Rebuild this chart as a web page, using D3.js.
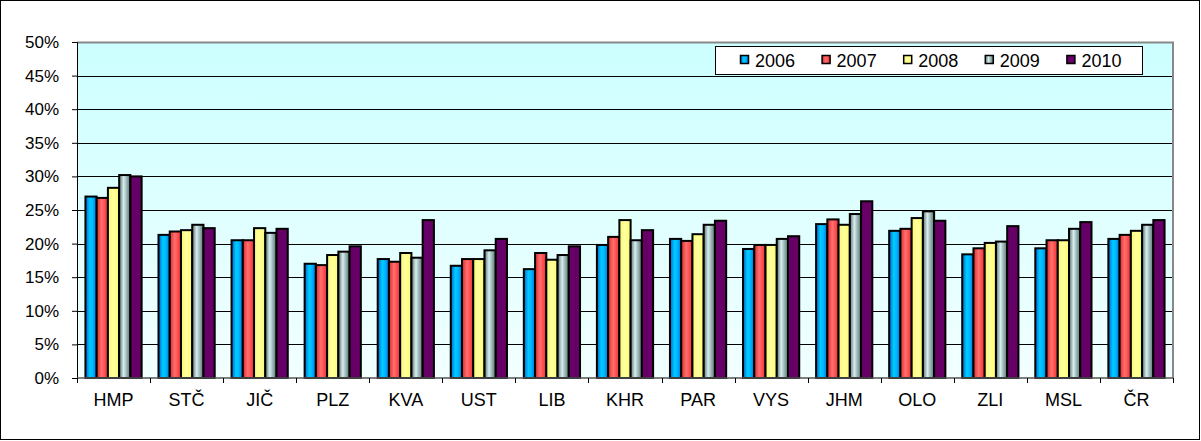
<!DOCTYPE html>
<html>
<head>
<meta charset="utf-8">
<script src="https://cdn.jsdelivr.net/npm/d3@7"></script>
<style>
  body { margin: 0; background: #fff; }
  text { font-family: "Liberation Sans", Arial, sans-serif; fill: #000; }
</style>
</head>
<body>
<svg width="1201" height="441"></svg>
<script>
const width = 1201;
const height = 441;

const categories = ["HMP", "STČ", "JIČ", "PLZ", "KVA", "UST", "LIB", "KHR", "PAR", "VYS", "JHM", "OLO", "ZLI", "MSL", "ČR"];
const years = ["2006", "2007", "2008", "2009", "2010"];

// hodnoty v procentech
const v2006 = [27.0, 21.3, 20.5, 17.0, 17.7, 16.7, 16.2, 19.8, 20.7, 19.2, 22.9, 21.9, 18.4, 19.3, 20.7];
const v2007 = [26.8, 21.8, 20.5, 16.8, 17.3, 17.7, 18.6, 21.0, 20.4, 19.8, 23.6, 22.2, 19.3, 20.5, 21.3];
const v2008 = [28.3, 22.0, 22.3, 18.3, 18.6, 17.7, 17.6, 23.5, 21.4, 19.8, 22.8, 23.8, 20.1, 20.5, 21.9];
const v2009 = [30.2, 22.8, 21.6, 18.8, 17.9, 19.0, 18.3, 20.5, 22.8, 20.7, 24.4, 24.8, 20.3, 22.2, 22.8];
const v2010 = [30.0, 22.3, 22.2, 19.6, 23.5, 20.7, 19.6, 22.0, 23.4, 21.1, 26.3, 23.4, 22.6, 23.2, 23.5];
const yTicks = [0, 5, 10, 15, 20, 25, 30, 35, 40, 45, 50];

const series = [v2006, v2007, v2008, v2009, v2010];

const margin = {left: 77, top: 42, right: 1173, bottom: 378};

const svg = d3.select("svg").attr("viewBox", [0, 0, width, height]);
const defs = svg.append("defs");

// gradienty
const bg = defs.append("linearGradient").attr("id", "bg")
    .attr("x1", 0).attr("y1", 0).attr("x2", 0).attr("y2", 1);
bg.append("stop").attr("offset", 0).attr("stop-color", "#ccffff");
bg.append("stop").attr("offset", 1).attr("stop-color", "#f2ffff");

const barStops = [
    [["#0060d0", 0], ["#00ccff", 0.4], ["#00b8ff", 0.65], ["#0070e0", 1]],
    [["#e02828", 0], ["#ff7070", 0.45], ["#ff5050", 0.7], ["#e83030", 1]],
    [["#f8f870", 0], ["#ffffa0", 0.45], ["#ffff88", 0.7], ["#f8f870", 1]],
    [["#5a7070", 0], ["#d8eeee", 0.4], ["#a8c4c4", 0.6], ["#5a7070", 1]],
    [["#660066", 0], ["#660066", 1]]
];
barStops.forEach((stops, i) => {
    const g = defs.append("linearGradient").attr("id", "bar" + i)
        .attr("x1", 0).attr("y1", 0).attr("x2", 1).attr("y2", 0);
    stops.forEach(([c, o]) => g.append("stop").attr("offset", o).attr("stop-color", c));
});

// okraj grafu
svg.append("rect")
    .attr("x", 0.5).attr("y", 0.5)
    .attr("width", width - 2).attr("height", height - 2)
    .attr("fill", "#fff")
    .attr("stroke", "#000");

const x = d3.scaleBand()
    .domain(categories)
    .range([margin.left, margin.right])
    .paddingInner(0).paddingOuter(0);

const bw = x.bandwidth() / 6.5;
const off = (x.bandwidth() - bw * 5) / 2;
const xs = d3.scaleBand()
    .domain(years)
    .range([off, off + bw * 5]);

const y = d3.scaleLinear()
    .domain([0, 50])
    .range([margin.bottom, margin.top]);

// plocha
svg.append("rect")
    .attr("x", margin.left).attr("y", margin.top)
    .attr("width", margin.right - margin.left)
    .attr("height", margin.bottom - margin.top)
    .attr("fill", "url(#bg)");

// mřížka
svg.append("g")
    .selectAll("line")
    .data(yTicks.filter(t => t > 0 && t < 50))
    .join("line")
    .attr("x1", margin.left).attr("x2", margin.right)
    .attr("y1", d => Math.round(y(d)) + 0.5)
    .attr("y2", d => Math.round(y(d)) + 0.5)
    .attr("stroke", "#000");

// horní a pravý okraj plochy
svg.append("path")
    .attr("d", `M${margin.left},${margin.top + 0.5}H${margin.right}V${margin.bottom}`)
    .attr("fill", "none")
    .attr("stroke", "#888")
    .attr("stroke-width", 2);

// sloupce
const groups = svg.append("g")
    .selectAll("g")
    .data(categories)
    .join("g")
    .attr("transform", d => `translate(${x(d)},0)`);

groups.selectAll("rect")
    .data((c, ci) => years.map((yr, si) => ({yr, si, v: series[si][ci]})))
    .join("rect")
    .attr("x", d => xs(d.yr))
    .attr("y", d => y(d.v))
    .attr("width", xs.bandwidth())
    .attr("height", d => y(0) - y(d.v))
    .attr("fill", d => `url(#bar${d.si})`)
    .attr("stroke", "#000")
    .attr("stroke-width", 2);

// osa y
const yAxis = svg.append("g")
    .attr("transform", `translate(${margin.left},0)`)
    .call(d3.axisLeft(y).tickValues(yTicks).tickSize(5).tickPadding(13).tickFormat(d => d + "%"));
yAxis.select(".domain").attr("stroke", "#000");
yAxis.selectAll("text").attr("font-size", 17);

// osa x
const xAxis = svg.append("g")
    .attr("transform", `translate(0,${margin.bottom})`);
xAxis.append("line")
    .attr("x1", margin.left).attr("x2", margin.right)
    .attr("stroke", "#555").attr("stroke-width", 1.5);
xAxis.selectAll(".tk")
    .data(categories.map(c => x(c)).concat([margin.right]))
    .join("line")
    .attr("class", "tk")
    .attr("x1", d => Math.round(d) + 0.5).attr("x2", d => Math.round(d) + 0.5)
    .attr("y1", 0).attr("y2", 5)
    .attr("stroke", "#000");
xAxis.selectAll("text")
    .data(categories)
    .join("text")
    .attr("x", d => x(d) + x.bandwidth() / 2)
    .attr("y", 28)
    .attr("text-anchor", "middle")
    .attr("font-size", 18)
    .text(d => d);

// legenda
const legend = svg.append("g");
legend.append("rect")
    .attr("x", 715.5).attr("y", 46.5)
    .attr("width", 427).attr("height", 28)
    .attr("fill", "#fff")
    .attr("stroke", "#000");

const items = legend.selectAll("g")
    .data(years)
    .join("g")
    .attr("transform", (d, i) => `translate(${740 + i * 81.6},60)`);
items.append("rect")
    .attr("x", 0.5).attr("y", -4.5)
    .attr("width", 8).attr("height", 8)
    .attr("fill", (d, i) => `url(#bar${i})`)
    .attr("stroke", "#000")
    .attr("stroke-width", 1.5);
items.append("text")
    .attr("x", 15)
    .attr("y", 6.5)
    .attr("font-size", 18)
    .text(d => d);
</script>
</body>
</html>
